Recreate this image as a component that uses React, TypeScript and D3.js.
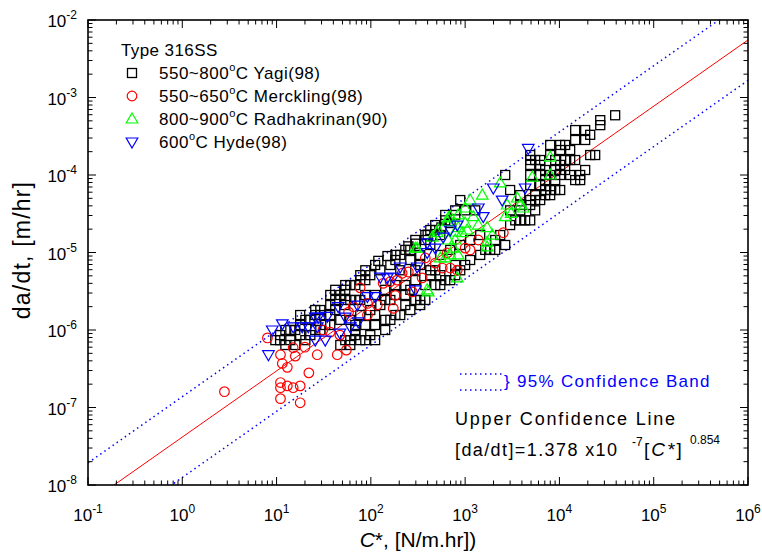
import { useEffect, useRef } from 'react'
import * as d3 from 'd3'

// decade exponents shown on the axes
const xExponents = [-1, 0, 1, 2, 3, 4, 5, 6]
const yExponents = [-8, -7, -6, -5, -4, -3, -2]

// [C*, da/dt]
const yagi: [number, number][] = [
  [39000, 5.9e-4], [27100, 5.1e-4], [27100, 4.4e-4], [18750, 3.8e-4], [14690, 3.8e-4], [21200, 3.3e-4],
  [18750, 2.83e-4], [14690, 2.83e-4], [11500, 2.44e-4], [10190, 2.1e-4], [7980, 2.44e-4], [13000, 2.1e-4],
  [14690, 1.56e-4], [21200, 1.81e-4], [18750, 1.16e-4], [16600, 1.0e-4], [16600, 8.6e-5], [10190, 6.4e-5],
  [7980, 5.5e-5], [7060, 6.4e-5], [6250, 7.4e-5], [7060, 8.6e-5], [9020, 1.16e-4], [11500, 1.16e-4],
  [9020, 1.56e-4], [11500, 1.56e-4], [6250, 1.35e-4], [4900, 1.56e-4], [4900, 1.81e-4], [6250, 1.56e-4],
  [7060, 1.16e-4], [6250, 1.0e-4], [4900, 1.0e-4], [4900, 7.4e-5], [5530, 5.5e-5], [4900, 4.75e-5],
  [3840, 4.1e-5], [3840, 2.6e-5], [4900, 2.6e-5], [3400, 2.6e-5], [5530, 3.5e-5], [2660, 1.0e-4],
  [4900, 1.35e-4], [2660, 1.25e-5], [2085, 1.08e-5], [1845, 1.08e-5], [1445, 9.3e-6], [2085, 1.45e-5],
  [1445, 1.68e-5], [1130, 1.45e-5], [1000, 6.9e-6], [785, 5.1e-6], [545, 5.1e-6], [427, 5.1e-6],
  [378, 3.8e-6], [1000, 3.5e-5], [785, 3.5e-5], [615, 2.6e-5], [482, 2.26e-5], [427, 1.95e-5],
  [378, 1.68e-5], [887, 4.75e-5], [482, 5.9e-6], [785, 6.9e-6], [10190, 2.44e-4], [7980, 1.81e-4],
  [13000, 1.56e-4], [10190, 1.35e-4], [5530, 1.56e-4], [7980, 1.0e-4], [10190, 1.0e-4], [14690, 8.6e-5],
  [9020, 8.6e-5], [7980, 6.4e-5], [6250, 4.75e-5], [5530, 4.75e-5], [4900, 4.1e-5], [3000, 6.4e-5],
  [3840, 5.5e-5], [3000, 3.5e-5], [4330, 2.6e-5], [785, 3.05e-5], [615, 3.05e-5], [1280, 3.5e-5],
  [545, 1.68e-5], [296, 1.45e-5], [232, 1.08e-5], [205, 9.3e-6], [182, 8.0e-6], [161, 6.9e-6],
  [126, 5.9e-6], [98.6, 5.1e-6], [87.3, 4.4e-6], [77.2, 4.4e-6], [68.4, 3.8e-6], [53.5, 3.3e-6],
  [47.4, 2.83e-6], [41.9, 2.44e-6], [37.1, 2.83e-6], [262, 3.3e-6], [232, 2.83e-6], [334, 2.44e-6],
  [378, 2.44e-6], [182, 3.8e-6], [142, 3.3e-6], [111, 2.83e-6], [87.3, 2.83e-6], [68.4, 2.44e-6],
  [161, 2.44e-6], [296, 4.4e-6], [482, 3.8e-6], [427, 5.9e-6], [615, 4.4e-6], [262, 8.0e-6],
  [334, 9.3e-6], [427, 1.25e-5], [205, 5.9e-6], [87.3, 1.16e-6], [111, 1.16e-6], [98.6, 8.6e-7],
  [111, 7.4e-7], [77.2, 7.4e-7], [68.4, 8.6e-7], [60.5, 6.4e-7], [142, 1.35e-6], [182, 1.56e-6],
  [232, 2.1e-6], [296, 2.44e-6], [142, 1.0e-6], [126, 2.1e-6], [111, 1.56e-6], [77.2, 2.44e-6],
  [60.5, 2.44e-6], [53.5, 2.1e-6], [41.9, 1.81e-6], [37.1, 1.56e-6], [29.1, 1.56e-6], [25.7, 1.56e-6],
  [20.2, 1.35e-6], [17.8, 1.56e-6], [17.8, 1.16e-6], [15.8, 1.0e-6], [12.4, 1.0e-6], [10.9, 8.6e-7],
  [10.9, 7.4e-7], [41.9, 3.3e-6], [53.5, 3.8e-6], [77.2, 5.1e-6], [87.3, 5.9e-6], [111, 6.9e-6],
  [182, 9.3e-6], [262, 1.08e-5], [378, 1.45e-5], [482, 1.95e-5], [14.0, 1.0e-6], [17.8, 8.6e-7],
  [22.8, 1.35e-6], [25.7, 1.81e-6], [29.1, 1.81e-6], [37.1, 2.1e-6], [60.5, 3.8e-6], [53.5, 2.44e-6],
  [60.5, 7.4e-7], [68.4, 1.0e-6], [68.4, 1.16e-6], [9.7, 7.4e-7], [12.4, 6.4e-7], [14.0, 7.4e-7],
  [15.8, 6.4e-7], [20.2, 7.4e-7], [22.8, 8.6e-7], [25.7, 1.0e-6], [29.1, 1.0e-6], [32.8, 1.16e-6],
  [37.1, 1.16e-6], [47.4, 1.35e-6], [47.4, 6.4e-7], [53.5, 7.4e-7], [87.3, 7.4e-7], [161, 1.35e-6],
  [205, 1.56e-6], [262, 1.81e-6], [334, 2.1e-6], [545, 3.8e-6], [695, 4.4e-6], [887, 5.9e-6],
  [1130, 8.0e-6], [1633, 1.08e-5], [2355, 1.68e-5], [3000, 2.26e-5], [3840, 3.5e-5], [7060, 5.5e-5],
  [9020, 6.4e-5], [13000, 1.0e-4], [23950, 1.81e-4], [98.6, 1.81e-6], [77.2, 1.56e-6], [60.5, 1.35e-6],
  [142, 2.44e-6], [182, 2.83e-6], [232, 3.8e-6], [296, 5.9e-6], [334, 6.9e-6], [545, 9.3e-6],
  [695, 1.08e-5], [887, 1.25e-5], [300, 1.3e-5], [250, 1.2e-5], [400, 1.7e-5], [560, 2.1e-5],
  [700, 2.4e-5], [150, 9.0e-6], [120, 7.8e-6],
]

const merckling: [number, number][] = [
  [2.8, 1.6e-7], [8.0, 7.9e-7], [11, 4.8e-7], [11.5, 3.7e-7], [13, 3.3e-7], [15, 5.9e-7],
  [15.8, 4.6e-7], [11, 2.1e-7], [11, 1.8e-7], [13, 1.9e-7], [15, 1.8e-7], [11, 1.3e-7],
  [17.8, 1.15e-7], [22, 2.8e-7], [20, 6.0e-7], [27, 4.8e-7], [31, 1.0e-6], [37, 9.4e-7],
  [44, 4.8e-7], [47, 8.6e-7], [55, 5.5e-7], [58, 1.7e-6], [65, 2.0e-6], [77, 3.5e-6],
  [92, 1.56e-6], [92, 2.2e-6], [117, 2.1e-6], [135, 4.0e-6], [173, 1.9e-6], [182, 2.8e-6],
  [215, 5.4e-6], [250, 5.6e-6], [275, 3.1e-6], [350, 4.7e-6], [378, 8.5e-6], [482, 7.3e-6],
  [572, 6.3e-6], [646, 9.9e-6], [695, 6.3e-6], [825, 5.9e-6], [1000, 1.14e-5], [1130, 1.08e-5],
  [1380, 1.45e-5], [2540, 1.8e-5], [160, 4.2e-6], [190, 4.4e-6], [17.8, 1.9e-7],
]

const radhakrinan: [number, number][] = [
  [310, 1.14e-5], [662, 2.8e-5], [845, 3.05e-5], [2355, 7.9e-5], [1520, 5.5e-5], [1130, 4.75e-5],
  [3570, 5.05e-5], [2790, 4.1e-5], [3840, 4.1e-5], [4130, 3.75e-5], [1000, 3.75e-5], [695, 2.9e-5],
  [1220, 2.9e-5], [1000, 2.4e-5], [2660, 2.9e-5], [3080, 3.2e-5], [518, 1.95e-5], [845, 2.1e-5],
  [1380, 2.26e-5], [1710, 2.1e-5], [448, 1.58e-5], [930, 1.8e-5], [662, 1.45e-5], [785, 1.45e-5],
  [1710, 1.36e-5], [748, 1.14e-5], [1710, 1.18e-5], [845, 9.3e-6], [695, 9.3e-6], [615, 8.5e-6],
  [825, 4.7e-6], [406, 3.1e-6], [5150, 9.4e-5], [7980, 1.7e-4], [7980, 1.0e-4], [1940, 1.68e-5],
  [396, 3.3e-6], [296, 1.14e-5], [646, 2.5e-5], [505, 1.8e-5], [1050, 1.95e-5], [785, 1.84e-5],
  [545, 8.5e-6],
]

const hyde: [number, number][] = [
  [8.2, 4.8e-7], [15, 1.1e-6], [18.7, 1.1e-6], [21.7, 1.1e-6], [27, 1.1e-6], [27.7, 1.47e-6],
  [34.5, 1.5e-6], [25.7, 7.4e-7], [32.8, 7.4e-7], [45, 2.0e-6], [47, 9.1e-7], [53.5, 1.47e-6],
  [60.5, 1.1e-6], [72, 2.1e-6], [73.5, 1.27e-6], [92, 2.7e-6], [111, 2.7e-6], [126, 4.8e-6],
  [149, 4.7e-6], [173, 4.8e-6], [205, 6.5e-6], [296, 3.3e-6], [310, 6.5e-6], [396, 1.33e-5],
  [482, 1.14e-5], [585, 1.58e-5], [695, 1.95e-5], [825, 2.26e-5], [1380, 3.75e-5], [1555, 2.9e-5],
  [1990, 6.8e-5], [2470, 4.75e-5], [4330, 6.8e-5], [4670, 2.2e-4], [9.0, 1.0e-6], [11.5, 1.2e-6],
  [396, 1.0e-5], [25.7, 1.47e-6],
]

// power-law fit da/dt = A * C*^n and its 95% band
const fitExponent = 0.854
const upperCoef = 1.378e-7
const meanCoef = 4.15e-8
const lowerCoef = 1.25e-8

const legendItems = [
  { range: '550~800', rest: 'C Yagi(98)', shape: 'square', color: '#000000' },
  { range: '550~650', rest: 'C Merckling(98)', shape: 'circle', color: '#ff0000' },
  { range: '800~900', rest: 'C Radhakrinan(90)', shape: 'up', color: '#00ff00' },
  { range: '600', rest: 'C Hyde(98)', shape: 'down', color: '#0000ff' },
]

const FONT = 'Arial, "Liberation Sans", sans-serif'

export default function App() {
  const svgRef = useRef<SVGSVGElement>(null)

  useEffect(() => {
    if (!svgRef.current) return
    const svg = d3.select(svgRef.current)
    svg.selectAll('*').remove()

    const left = 88, right = 748, top = 20, bottom = 485

    const x = d3.scaleLog().domain([0.1, 1e6]).range([left, right])
    const y = d3.scaleLog().domain([1e-8, 1e-2]).range([bottom, top])

    svg.append('defs').append('clipPath').attr('id', 'plot-clip')
      .append('rect').attr('x', left).attr('y', top)
      .attr('width', right - left).attr('height', bottom - top)

    // fit line and 95% band
    const span = [0.1, 1e6]
    const fits = svg.append('g').attr('clip-path', 'url(#plot-clip)')
    const drawFit = (coef: number, color: string, dash: string | null, w: number) => {
      const pts = span.map(c => coef * Math.pow(c, fitExponent))
      fits.append('path')
        .attr('d', d3.line<number>().x((_, i) => x(span[i])).y(v => y(v))(pts))
        .attr('fill', 'none')
        .attr('stroke', color)
        .attr('stroke-width', w)
        .attr('stroke-dasharray', dash)
    }
    drawFit(meanCoef, '#ff0000', null, 1)
    drawFit(upperCoef, '#0000ff', '1.5,3.5', 1.5)
    drawFit(lowerCoef, '#0000ff', '1.5,3.5', 1.5)

    // markers
    const marks = svg.append('g').attr('clip-path', 'url(#plot-clip)').attr('fill', 'none')
    const drawShape = (g: d3.Selection<any, any, any, any>, shape: string, cx: number, cy: number, color: string) => {
      if (shape === 'square') {
        g.append('rect').attr('x', cx - 4.5).attr('y', cy - 4.5).attr('width', 9).attr('height', 9)
          .attr('stroke', color).attr('stroke-width', 1.3).attr('fill', 'none')
      } else if (shape === 'circle') {
        g.append('circle').attr('cx', cx).attr('cy', cy).attr('r', 4.8)
          .attr('stroke', color).attr('stroke-width', 1.2).attr('fill', 'none')
      } else if (shape === 'up') {
        g.append('path').attr('d', `M${cx},${cy - 6}L${cx + 5.8},${cy + 4}L${cx - 5.8},${cy + 4}Z`)
          .attr('stroke', color).attr('stroke-width', 1.2).attr('fill', 'none')
      } else {
        g.append('path').attr('d', `M${cx},${cy + 6}L${cx + 5.8},${cy - 4}L${cx - 5.8},${cy - 4}Z`)
          .attr('stroke', color).attr('stroke-width', 1.2).attr('fill', 'none')
      }
    }
    yagi.forEach(([c, v]) => drawShape(marks, 'square', x(c), y(v), '#000000'))
    merckling.forEach(([c, v]) => drawShape(marks, 'circle', x(c), y(v), '#ff0000'))
    radhakrinan.forEach(([c, v]) => drawShape(marks, 'up', x(c), y(v), '#00ff00'))
    hyde.forEach(([c, v]) => drawShape(marks, 'down', x(c), y(v), '#0000ff'))

    // ticks, inward on all four sides
    const axes = svg.append('g').attr('stroke', '#000')
    const majorLen = 8, minorLen = 4.5
    xExponents.forEach((e, i) => {
      const px = x(Math.pow(10, e))
      axes.append('line').attr('x1', px).attr('x2', px).attr('y1', bottom).attr('y2', bottom - majorLen)
      axes.append('line').attr('x1', px).attr('x2', px).attr('y1', top).attr('y2', top + majorLen)
      if (i < xExponents.length - 1) {
        d3.range(2, 10).forEach(m => {
          const mx = x(m * Math.pow(10, e))
          axes.append('line').attr('x1', mx).attr('x2', mx).attr('y1', bottom).attr('y2', bottom - minorLen)
          axes.append('line').attr('x1', mx).attr('x2', mx).attr('y1', top).attr('y2', top + minorLen)
        })
      }
    })
    yExponents.forEach((e, i) => {
      const py = y(Math.pow(10, e))
      axes.append('line').attr('x1', left).attr('x2', left + majorLen).attr('y1', py).attr('y2', py)
      axes.append('line').attr('x1', right).attr('x2', right - majorLen).attr('y1', py).attr('y2', py)
      if (i < yExponents.length - 1) {
        d3.range(2, 10).forEach(m => {
          const my = y(m * Math.pow(10, e))
          axes.append('line').attr('x1', left).attr('x2', left + minorLen).attr('y1', my).attr('y2', my)
          axes.append('line').attr('x1', right).attr('x2', right - minorLen).attr('y1', my).attr('y2', my)
        })
      }
    })
    svg.append('rect').attr('x', left).attr('y', top).attr('width', right - left).attr('height', bottom - top)
      .attr('fill', 'none').attr('stroke', '#000').attr('stroke-width', 1.6)

    // tick labels
    const lbl = svg.append('g').attr('font-family', FONT).attr('fill', '#000')
    xExponents.forEach(e => {
      const t = lbl.append('text').attr('x', x(Math.pow(10, e))).attr('y', 521)
        .attr('text-anchor', 'middle').attr('font-size', 17)
      t.append('tspan').text('10')
      t.append('tspan').attr('dy', -8).attr('font-size', 12).text(String(e))
    })
    yExponents.forEach(e => {
      const t = lbl.append('text').attr('x', 77).attr('y', y(Math.pow(10, e)) + 7)
        .attr('text-anchor', 'end').attr('font-size', 17)
      t.append('tspan').text('10')
      t.append('tspan').attr('dy', -8).attr('font-size', 12).text(String(e))
    })

    // axis titles
    lbl.append('text').attr('transform', 'translate(30,250) rotate(-90)')
      .attr('text-anchor', 'middle').attr('font-size', 23).attr('letter-spacing', 1.2).text('da/dt, [m/hr]')
    const xt = lbl.append('text').attr('x', 418).attr('y', 547).attr('text-anchor', 'middle').attr('font-size', 21)
    xt.append('tspan').attr('font-style', 'italic').text('C')
    xt.append('tspan').text('*, [N/m.hr])')

    // legend
    const leg = svg.append('g').attr('font-family', FONT).attr('font-size', 17)
    leg.append('text').attr('x', 121).attr('y', 56).attr('letter-spacing', 0.4).text('Type 316SS')
    legendItems.forEach((it, i) => {
      const cy = 73 + i * 23
      drawShape(leg, it.shape, 132, cy, it.color)
      const t = leg.append('text').attr('x', 159).attr('y', cy + 6).attr('letter-spacing', 0.5)
      t.append('tspan').text(it.range)
      t.append('tspan').attr('dy', -8).attr('font-size', 11).text('o')
      t.append('tspan').attr('dy', 8).text(it.rest)
    })

    // confidence band note
    const note = svg.append('g').attr('font-family', FONT)
    ;[374, 390].forEach(py => {
      note.append('line').attr('x1', 460).attr('x2', 503).attr('y1', py).attr('y2', py)
        .attr('stroke', '#0000ff').attr('stroke-width', 1.5).attr('stroke-dasharray', '1.5,3.5')
    })
    note.append('text').attr('x', 504).attr('y', 387).attr('font-size', 17).attr('fill', '#0000ff')
      .attr('letter-spacing', 1.3).text('} 95% Confidence Band')
    note.append('text').attr('x', 455).attr('y', 425).attr('font-size', 18).attr('letter-spacing', 1.8)
      .text('Upper Confidence Line')
    note.append('text').attr('x', 455).attr('y', 456).attr('font-size', 18).attr('letter-spacing', 1.4)
      .text('[da/dt]=1.378 x10')
    note.append('text').attr('x', 632).attr('y', 446).attr('font-size', 12).text('-7')
    const cf = note.append('text').attr('x', 644).attr('y', 456).attr('font-size', 19).attr('letter-spacing', 2)
    cf.append('tspan').text('[')
    cf.append('tspan').attr('font-style', 'italic').text('C*')
    cf.append('tspan').text(']')
    note.append('text').attr('x', 690).attr('y', 444).attr('font-size', 12).text('0.854')
  }, [])

  return (
    <svg
      ref={svgRef}
      width={762}
      height={555}
      style={{ position: 'absolute', left: 0, top: 0, background: '#fff' }}
    />
  )
}
